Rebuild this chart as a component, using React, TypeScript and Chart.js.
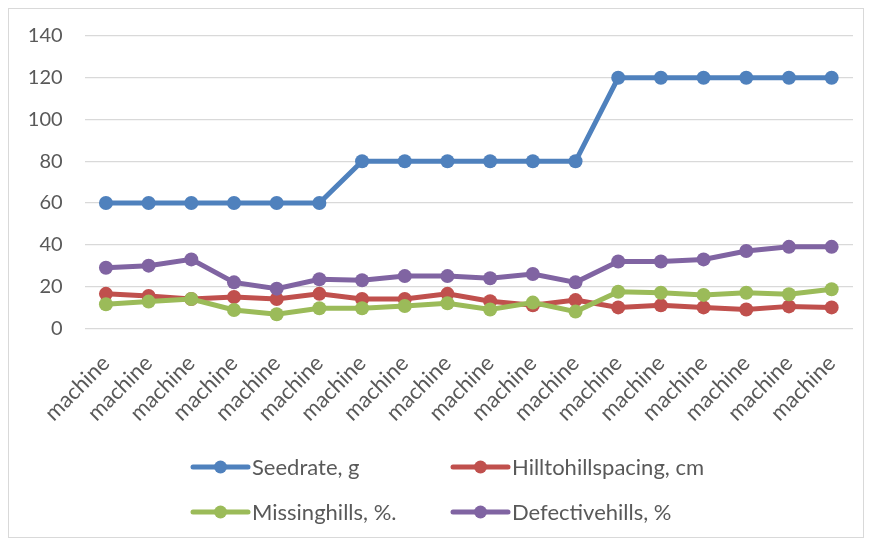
import React, { useEffect, useRef } from 'react';
import { Chart, registerables } from 'chart.js';
Chart.register(...registerables);

const categories = ['machine', 'machine', 'machine', 'machine', 'machine', 'machine', 'machine', 'machine', 'machine', 'machine', 'machine', 'machine', 'machine', 'machine', 'machine', 'machine', 'machine', 'machine'];
const seedRate = [60, 60, 60, 60, 60, 60, 80, 80, 80, 80, 80, 80, 120, 120, 120, 120, 120, 120];
const hillSpacing = [16.5, 15.5, 14, 15, 14, 16.5, 14, 14, 16.5, 13, 11, 13.5, 10, 11, 10, 9, 10.5, 10];
const missingHills = [11.5, 12.8, 14, 8.8, 6.7, 9.6, 9.6, 10.7, 12, 9, 12.3, 8, 17.5, 17, 16, 17, 16.3, 18.7];
const defectiveHills = [29, 30, 33, 22, 19, 23.5, 23, 25, 25, 24, 26, 22, 32, 32, 33, 37, 39, 39];
const seriesNames = ['Seedrate, g', 'Hilltohillspacing, cm', 'Missinghills, %.', 'Defectivehills, %'];
const seriesColors = ['#4F81BD', '#C0504D', '#9BBB59', '#8064A2'];
const yMin = 0;
const yMax = 140;
const yStep = 20;

const FONT = 'Lato, "Open Sans", sans-serif';
const TEXT = '#595959';

const legendPlugin = {
  id: 'customLegend',
  afterDraw(chart: any) {
    const ctx = chart.ctx;
    const cx = chart.width / 2;
    const cols = [cx - 243, cx + 17];
    const rows = [458, 503];
    ctx.save();
    ctx.font = `22px ${FONT}`;
    ctx.textBaseline = 'middle';
    ctx.textAlign = 'left';
    chart.data.datasets.forEach((ds: any, i: number) => {
      const x = cols[i % 2];
      const y = rows[Math.floor(i / 2)];
      ctx.strokeStyle = ds.borderColor;
      ctx.lineWidth = 5;
      ctx.lineCap = 'round';
      ctx.beginPath();
      ctx.moveTo(x, y);
      ctx.lineTo(x + 55, y);
      ctx.stroke();
      ctx.fillStyle = ds.borderColor;
      ctx.beginPath();
      ctx.arc(x + 27.5, y, 6.5, 0, Math.PI * 2);
      ctx.fill();
      ctx.fillStyle = TEXT;
      ctx.fillText(ds.label, x + 59, y + 1);
    });
    ctx.restore();
  },
};

export default function App() {
  const ref = useRef<HTMLCanvasElement>(null);
  useEffect(() => {
    if (!ref.current) return;
    const series = [seedRate, hillSpacing, missingHills, defectiveHills];
    const chart = new Chart(ref.current, {
      type: 'line',
      data: {
        labels: categories,
        datasets: series.map((d, i) => ({
          label: seriesNames[i],
          data: d,
          borderColor: seriesColors[i],
          backgroundColor: seriesColors[i],
          pointBackgroundColor: seriesColors[i],
          pointBorderColor: seriesColors[i],
          borderWidth: 5,
          pointRadius: 7,
          pointBorderWidth: 0,
          tension: 0,
          order: 4 - i,
        })),
      },
      options: {
        animation: false,
        responsive: false,
        maintainAspectRatio: false,
        layout: { padding: { top: 27, right: 10, left: 0, bottom: 108.7 } },
        plugins: { legend: { display: false }, tooltip: { enabled: false } },
        scales: {
          x: {
            offset: true,
            grid: { display: false, drawTicks: true, tickLength: 20 },
            border: { display: false },
            ticks: {
              autoSkip: false,
              maxRotation: 45,
              minRotation: 45,
              color: TEXT,
              font: { family: FONT, size: 22 },
              padding: 2,
            },
            afterFit: (s: any) => { s.height = 100; },
          },
          y: {
            min: yMin,
            max: yMax,
            ticks: {
              stepSize: yStep,
              color: TEXT,
              font: { family: FONT, size: 20 },
              padding: 2,
            },
            grid: { color: '#D9D9D9', lineWidth: 1.3, drawTicks: true, tickLength: 20, tickColor: 'rgba(0,0,0,0)' },
            border: { display: false },
            afterFit: (s: any) => { s.width = 75.6; },
          },
        },
      },
      plugins: [legendPlugin],
    });
    return () => chart.destroy();
  }, []);
  return (
    <div style={{ width: 854, height: 528, border: '1px solid #D9D9D9', background: '#fff' }}>
      <canvas ref={ref} width={854} height={528} style={{ display: 'block', width: 854, height: 528 }} />
    </div>
  );
}
